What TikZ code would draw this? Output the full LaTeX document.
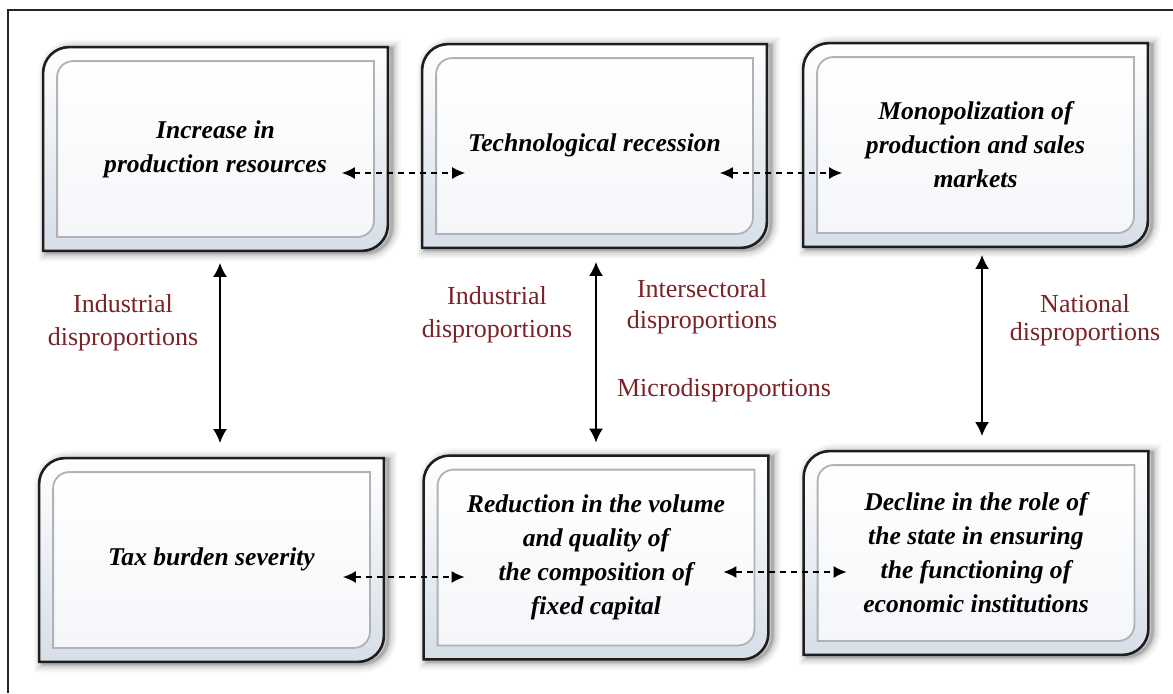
\documentclass[tikz,border=0pt]{standalone}
\usepackage{fontspec}
\setmainfont{Liberation Serif}
\usetikzlibrary{arrows.meta,calc}
\pgfdeclarelayer{bg}
\pgfsetlayers{bg,main}

\definecolor{lblred}{RGB}{122,34,40}
\definecolor{edge}{RGB}{30,30,30}
\definecolor{bandlow}{RGB}{214,222,232}
\definecolor{innerlow}{RGB}{244,246,249}
\definecolor{innerline}{RGB}{175,178,182}

% Card outline: square top-right / bottom-left, rounded top-left / bottom-right.
% #1 node name, #2 inset, #3 corner radius, #4 path options
\newcommand\cardshape[4]{%
  \path[#4] ([shift={(#2,-#2-#3)}]#1.north west)
    arc[start angle=180,end angle=90,radius=#3]
    -- ([shift={(-#2,-#2)}]#1.north east)
    -- ([shift={(-#2,#2+#3)}]#1.south east)
    arc[start angle=0,end angle=-90,radius=#3]
    -- ([shift={(#2,#2)}]#1.south west) -- cycle;}

\tikzset{
  card/.style={rectangle, inner sep=0pt, minimum width=172pt, minimum height=101.5pt,
    align=center, font=\fontsize{12.8pt}{17pt}\selectfont\bfseries\itshape},
  lbl/.style={inner sep=0pt, align=center, text=lblred,
    font=\fontsize{13pt}{16.5pt}\selectfont},
  vlink/.style={line width=1pt, {Latex[length=7pt,width=7pt]}-{Latex[length=7pt,width=7pt]}},
  dlink/.style={line width=0.75pt, dash pattern=on 3pt off 2.5pt,
    {Latex[length=6.5pt,width=6pt]}-{Latex[length=6.5pt,width=6pt]}},
  frameline/.style={line width=1pt, draw=black!85}
}

\begin{document}
\begin{tikzpicture}[x=0.5pt,y=0.5pt]
\useasboundingbox (0,0) rectangle (1173,693);

% boxes
\node[card] (b1) at (215.5,544) {Increase in\\production resources};
\node[card] (b2) at (594.5,547) {\raisebox{3pt}{Technological recession}};
\node[card] (b3) at (975.5,548) {Monopolization of\\production and sales\\markets};
\node[card] (b4) at (211.5,133) {\raisebox{3pt}{Tax burden severity}};
\node[card] (b5) at (596,135.5) {Reduction in the volume\\and quality of\\the composition of\\fixed capital};
\node[card] (b6) at (976,140) {Decline in the role of\\the state in ensuring\\the functioning of\\economic institutions};

% labels
\node[lbl] (l1) at (123,370.5) {Industrial\\disproportions};
\node[lbl] (l2) at (497,378.5) {Industrial\\disproportions};
\node[lbl, font=\fontsize{13pt}{15.5pt}\selectfont] (l3) at (702,386.5) {Intersectoral\\disproportions};
\node[lbl] (l4) at (724,303) {Microdisproportions};
\node[lbl, font=\fontsize{13pt}{14pt}\selectfont] (l5) at (1085,372.5) {National\\disproportions};

\begin{pgfonlayer}{bg}
  \fill[white] (0,0) rectangle (1173,693);
  \foreach \n in {b1,b2,b3,b4,b5,b6}{
    % soft drop shadow, mostly to the right
    \foreach \w/\o in {9/0.03,7/0.045,5/0.06,3/0.09,1.5/0.14}{
      \cardshape{\n}{0pt}{13pt}{draw=black, line width=\w pt, opacity=\o,
        transform canvas={shift={(2pt,-0.8pt)}}}
    }
    % outer card
    \cardshape{\n}{0pt}{13pt}{top color=white, middle color=white, bottom color=bandlow,
      draw=edge, line width=1.3pt}
    % inner inset panel
    \cardshape{\n}{7pt}{8pt}{top color=white, bottom color=innerlow, draw=innerline, line width=0.9pt}
  }
\end{pgfonlayer}

% frame
\draw[frameline] (1173,683) -- (8,683) -- (8,0);

% vertical links
\draw[vlink, shorten <=6pt, shorten >=7.5pt] ([xshift=2.25pt]b1.south) -- ([xshift=2.25pt]b1.south |- b4.north);
\draw[vlink, shorten <=7pt, shorten >=6.5pt] ([xshift=0.75pt]b2.south) -- ([xshift=0.75pt]b2.south |- b5.north);
\draw[vlink, shorten <=4pt, shorten >=7.5pt] ([xshift=3.25pt]b3.south) -- ([xshift=3.25pt]b3.south |- b6.north);

% horizontal dashed links
\draw[dlink] ([shift={(-23pt,-12pt)}]b1.east) -- ([shift={(21.5pt,-13.5pt)}]b2.west);
\draw[dlink] ([shift={(-23.5pt,-13.5pt)}]b2.east) -- ([shift={(19.5pt,-14pt)}]b3.west);
\draw[dlink] ([shift={(-20.5pt,-8.5pt)}]b4.east) -- ([shift={(20.5pt,-9.75pt)}]b5.west);
\draw[dlink] ([shift={(-22.5pt,-7.25pt)}]b5.east) -- ([shift={(21.5pt,-9.5pt)}]b6.west);
\end{tikzpicture}
\end{document}
